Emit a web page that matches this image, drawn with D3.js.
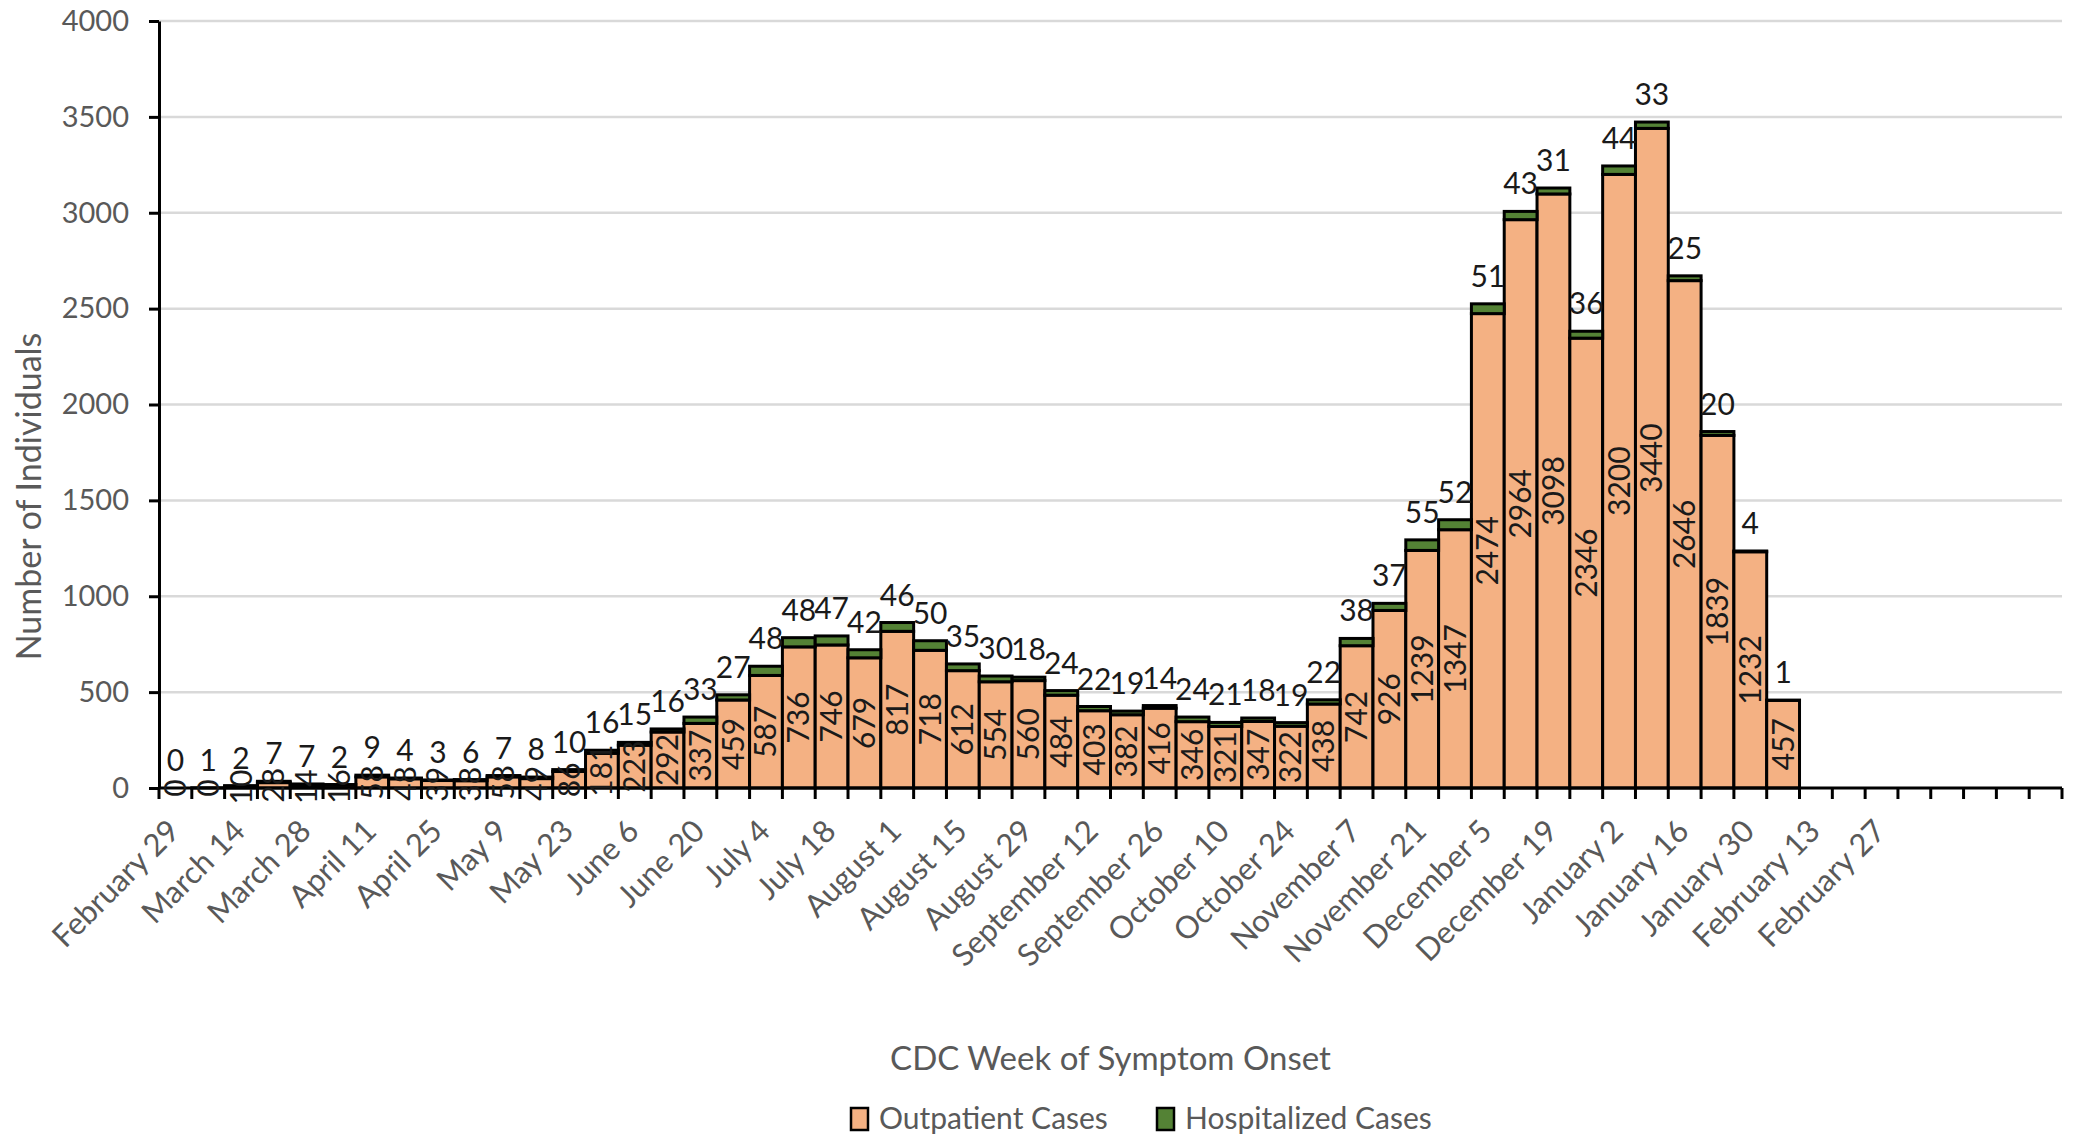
<!DOCTYPE html>
<html>
<head>
<meta charset="utf-8">
<script src="https://cdn.jsdelivr.net/npm/d3@7"></script>
<style>
  html, body { margin: 0; padding: 0; background: #ffffff; }
  svg { display: block; font-family: Lato, "Open Sans", sans-serif; }
</style>
</head>
<body>
<div id="chart"></div>
<script>
// CDC weeks of symptom onset (last five categories are blank in the source)
const weeks = [
  "February 29", "March 7", "March 14", "March 21", "March 28", "April 4",
  "April 11", "April 18", "April 25", "May 2", "May 9", "May 16",
  "May 23", "May 30", "June 6", "June 13", "June 20", "June 27",
  "July 4", "July 11", "July 18", "July 25", "August 1", "August 8",
  "August 15", "August 22", "August 29", "September 5", "September 12", "September 19",
  "September 26", "October 3", "October 10", "October 17", "October 24", "October 31",
  "November 7", "November 14", "November 21", "November 28", "December 5", "December 12",
  "December 19", "December 26", "January 2", "January 9", "January 16", "January 23",
  "January 30", "February 6", "February 13", "February 20", "February 27",
  "", "", "", "", ""
];

const outpatient = [
  0, 0, 10, 28, 14, 16, 58, 48, 39, 38, 58, 49, 86, 181,
  223, 292, 337, 459, 587, 736, 746, 679, 817, 718,
  612, 554, 560, 484, 403, 382, 416, 346, 321, 347,
  322, 438, 742, 926, 1239, 1347, 2474, 2964, 3098, 2346,
  3200, 3440, 2646, 1839, 1232, 457
];

const hospitalized = [
  0, 1, 2, 7, 7, 2, 9, 4, 3, 6, 7, 8, 10, 16,
  15, 16, 33, 27, 48, 48, 47, 42, 46, 50,
  35, 30, 18, 24, 22, 19, 14, 24, 21, 18,
  19, 22, 38, 37, 55, 52, 51, 43, 31, 36,
  44, 33, 25, 20, 4, 1
];

const yTicks = [0, 500, 1000, 1500, 2000, 2500, 3000, 3500, 4000];
const seriesNames = ["Outpatient Cases", "Hospitalized Cases"];
const seriesColors = ["#F4B183", "#548235"];

const width = 2073;
const height = 1138;
const margin = { left: 159, right: 11, top: 21, bottom: 350 };

const svg = d3.select("#chart")
  .append("svg")
  .attr("width", width)
  .attr("height", height);

const x = d3.scaleBand()
  .domain(weeks.map((d, i) => i))
  .range([margin.left, width - margin.right])
  .padding(0);

const y = d3.scaleLinear()
  .domain([0, 4000])
  .range([height - margin.bottom, margin.top]);

const rows = outpatient.map((v, i) => ({ i: i, out: v, hosp: hospitalized[i] }));
const stacked = d3.stack().keys(["out", "hosp"])(rows);

// gridlines
svg.append("g")
  .selectAll("line")
  .data(yTicks.filter(t => t > 0))
  .enter()
  .append("line")
  .attr("x1", margin.left)
  .attr("x2", width - margin.right)
  .attr("y1", d => y(d))
  .attr("y2", d => y(d))
  .attr("stroke", "#D9D9D9")
  .attr("stroke-width", 2.5);

// y axis
const yAxis = svg.append("g")
  .attr("transform", `translate(${margin.left},0)`)
  .call(d3.axisLeft(y)
    .tickValues(yTicks)
    .tickFormat(d3.format("d"))
    .tickSize(10)
    .tickSizeOuter(0)
    .tickPadding(20));

yAxis.select(".domain").attr("stroke", "#000").attr("stroke-width", 3);
yAxis.selectAll(".tick line").attr("stroke", "#000").attr("stroke-width", 3);
yAxis.selectAll(".tick text")
  .attr("fill", "#595959")
  .attr("font-size", "29px")
  .attr("font-family", "Lato, sans-serif");

// bars
const layers = svg.append("g")
  .selectAll("g")
  .data(stacked)
  .enter()
  .append("g")
  .attr("fill", (d, k) => seriesColors[k]);

layers.selectAll("rect")
  .data(d => d)
  .enter()
  .append("rect")
  .attr("x", d => x(d.data.i))
  .attr("y", d => y(d[1]))
  .attr("width", x.bandwidth())
  .attr("height", d => y(d[0]) - y(d[1]))
  .attr("stroke", "#000")
  .attr("stroke-width", 3);

// x axis line and boundary ticks
const x0 = height - margin.bottom;
svg.append("line")
  .attr("x1", margin.left)
  .attr("x2", width - margin.right)
  .attr("y1", x0)
  .attr("y2", x0)
  .attr("stroke", "#000")
  .attr("stroke-width", 3);

svg.append("g")
  .selectAll("line")
  .data(weeks.map((d, i) => i).concat([weeks.length]))
  .enter()
  .append("line")
  .attr("x1", i => i < weeks.length ? x(i) : x(weeks.length - 1) + x.bandwidth())
  .attr("x2", i => i < weeks.length ? x(i) : x(weeks.length - 1) + x.bandwidth())
  .attr("y1", x0)
  .attr("y2", x0 + 11)
  .attr("stroke", "#000")
  .attr("stroke-width", 3);

// x labels, every other week
svg.append("g")
  .selectAll("text")
  .data(weeks.map((d, i) => ({ name: d, i: i })).filter(d => d.i % 2 === 0 && d.name))
  .enter()
  .append("text")
  .attr("transform", d => `translate(${x(d.i) + x.bandwidth() / 2 + 6},${x0 + 45}) rotate(-45)`)
  .attr("text-anchor", "end")
  .attr("fill", "#595959")
  .attr("font-size", "31px")
  .text(d => d.name);

// labels inside the outpatient segment
svg.append("g")
  .selectAll("text")
  .data(stacked[0])
  .enter()
  .append("text")
  .attr("transform", d => `translate(${x(d.data.i) + x.bandwidth() / 2},${(y(d[0]) + y(d[1])) / 2}) rotate(-90)`)
  .attr("text-anchor", "middle")
  .attr("dy", "0.35em")
  .attr("fill", "#1a1a1a")
  .attr("font-size", "30px")
  .text(d => d.data.out);

// hospitalized counts above bars
svg.append("g")
  .selectAll("text")
  .data(stacked[1])
  .enter()
  .append("text")
  .attr("x", d => x(d.data.i) + x.bandwidth() / 2)
  .attr("y", d => y(d[1]) - 17)
  .attr("text-anchor", "middle")
  .attr("fill", "#1a1a1a")
  .attr("font-size", "30px")
  .text(d => d.data.hosp);

// axis titles
svg.append("text")
  .attr("transform", `translate(41,${(y(0) + y(4000)) / 2 + 92}) rotate(-90)`)
  .attr("text-anchor", "middle")
  .attr("fill", "#595959")
  .attr("font-size", "34px")
  .text("Number of Individuals");

svg.append("text")
  .attr("x", (margin.left + width - margin.right) / 2)
  .attr("y", 1070)
  .attr("text-anchor", "middle")
  .attr("fill", "#595959")
  .attr("font-size", "33px")
  .text("CDC Week of Symptom Onset");

// legend
const legendItems = [
  { name: seriesNames[0], color: seriesColors[0], x: 851 },
  { name: seriesNames[1], color: seriesColors[1], x: 1157 }
];

const legend = svg.append("g")
  .selectAll("g")
  .data(legendItems)
  .enter()
  .append("g")
  .attr("transform", d => `translate(${d.x},1108)`);

legend.append("rect")
  .attr("width", 17)
  .attr("height", 22)
  .attr("fill", d => d.color)
  .attr("stroke", "#000")
  .attr("stroke-width", 2.5);

legend.append("text")
  .attr("x", 28)
  .attr("y", 21)
  .attr("fill", "#595959")
  .attr("font-size", "30px")
  .text(d => d.name);
</script>
</body>
</html>
